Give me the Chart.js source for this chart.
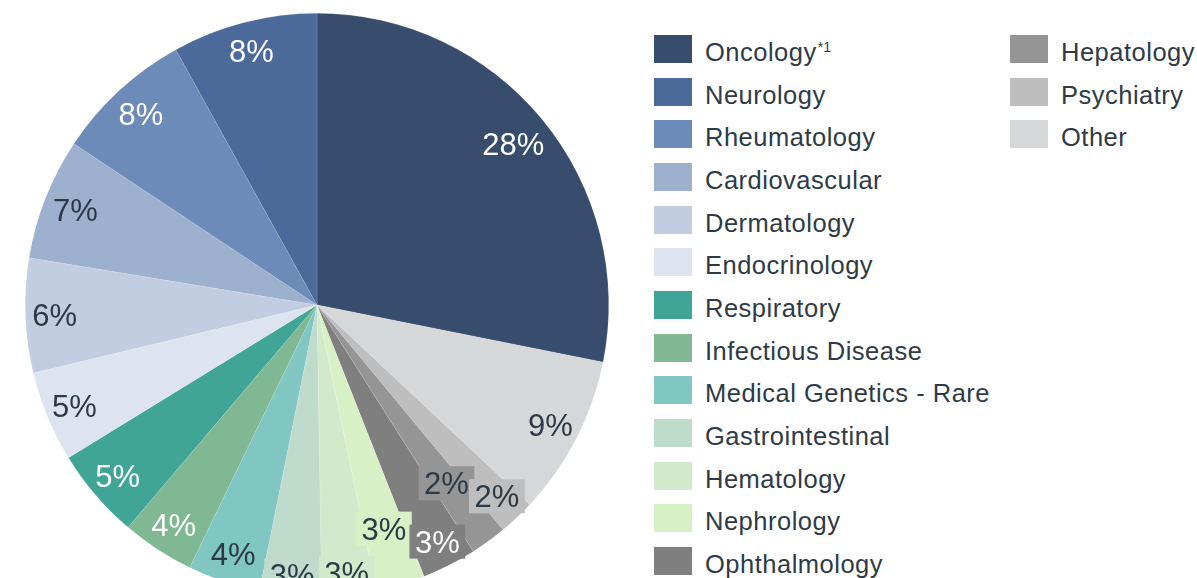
<!DOCTYPE html>
<html>
<head>
<meta charset="utf-8">
<script src="https://cdn.jsdelivr.net/npm/chart.js@4"></script>
<style>
  html, body { margin: 0; padding: 0; background: #fff; overflow: hidden; }
  #wrap { position: relative; width: 1197px; height: 578px; }
  #pieBox { position: absolute; left: 0; top: 0; }
  .legItem { position: absolute; height: 28px; }
  .legBox { position: absolute; left: 0; top: 0; width: 38px; height: 28px; }
  .legText {
    position: absolute; left: 51px; top: 3px; white-space: nowrap;
    font-family: "Liberation Sans", Arial, sans-serif; font-size: 25.5px;
    line-height: 28px; letter-spacing: 0.5px; color: #2E3B47;
  }
  .legText sup { font-size: 14px; letter-spacing: 0; vertical-align: 0; position: relative; top: -9px; margin-left: 1px; }
</style>
</head>
<body>
<div id="wrap">
  <div id="pieBox"><canvas id="pieChart" width="640" height="610"></canvas></div>
  <div id="legend"></div>
</div>
<script>
// --------------------
// Data (legend order), shares in %
// --------------------
const categories = [
  "Oncology", "Neurology", "Rheumatology", "Cardiovascular", "Dermatology",
  "Endocrinology", "Respiratory", "Infectious Disease", "Medical Genetics - Rare",
  "Gastrointestinal", "Hematology", "Nephrology", "Ophthalmology",
  "Hepatology", "Psychiatry", "Other"
];
const shares = [28, 8, 7.6, 6.7, 6.3, 5, 5, 4, 4, 3.4, 3, 2.7, 3, 2, 2, 8.8];
const footnotes = { "Oncology": "*1" };

const colors = [
  "#384D6D", "#4B6A99", "#6C8BB8", "#9DB0CE", "#C2CDE1",
  "#DEE4EF", "#40A597", "#7FB892", "#80C6C3",
  "#BFDBCB", "#D1EACB", "#D8F0C6", "#7F7F7F",
  "#959595", "#BEBEBE", "#D6D7D9"
];
const whiteLabels = ["Oncology", "Neurology", "Rheumatology", "Respiratory", "Infectious Disease", "Ophthalmology"];
// label distance as a fraction of the radius (default 0.9)
const labelRadius = {
  "Oncology": 0.87, "Rheumatology": 0.89, "Cardiovascular": 0.89,
  "Hepatology": 0.755, "Nephrology": 0.8, "Hematology": 0.925,
  "Gastrointestinal": 0.93, "Ophthalmology": 0.91
};

// --------------------
// Pie is drawn counterclockwise from the top in the original,
// so keep Oncology first and reverse the rest for Chart.js
// --------------------
const order = [0].concat([...Array(categories.length - 1).keys()].map(i => categories.length - 1 - i));
const drawLabels = order.map(i => categories[i]);
const drawData = order.map(i => shares[i]);
const drawColors = order.map(i => colors[i]);

// --------------------
// Percent labels (small slices get a slice-coloured box)
// --------------------
const pctLabels = {
  id: "pctLabels",
  afterDatasetsDraw(chart) {
    const ctx = chart.ctx;
    const meta = chart.getDatasetMeta(0);
    const total = drawData.reduce((a, b) => a + b, 0);
    ctx.save();
    ctx.font = "31px 'Liberation Sans', Arial, sans-serif";
    ctx.textAlign = "center";
    ctx.textBaseline = "alphabetic";
    for (let i = meta.data.length - 1; i >= 0; i--) {
      const arc = meta.data[i];
      const p = arc.getProps(["x", "y", "startAngle", "endAngle", "outerRadius"], true);
      const name = drawLabels[i];
      const mid = (p.startAngle + p.endAngle) / 2;
      const r = p.outerRadius * (labelRadius[name] || 0.9);
      const x = p.x + Math.cos(mid) * r;
      const y = p.y + Math.sin(mid) * r;
      const pct = drawData[i] / total * 100;
      const txt = Math.round(pct) + "%";
      if (pct < 3.6) {
        const w = ctx.measureText(txt).width + 11;
        ctx.fillStyle = drawColors[i];
        ctx.fillRect(x - w / 2, y - 17, w, 34);
      }
      ctx.fillStyle = whiteLabels.includes(name) ? "#FFFFFF" : "#2B3A46";
      ctx.fillText(txt, x, y + 11);
    }
    ctx.restore();
  }
};

const pieChart = new Chart(document.getElementById("pieChart"), {
  type: "pie",
  data: {
    labels: drawLabels,
    datasets: [{
      data: drawData,
      backgroundColor: drawColors,
      borderColor: "rgba(255,255,255,0.25)",
      borderWidth: 0.5
    }]
  },
  options: {
    responsive: false,
    animation: false,
    layout: { padding: { left: 25, right: 31, top: 13, bottom: 13 } },
    plugins: { legend: { display: false }, tooltip: { enabled: false } }
  },
  plugins: [pctLabels]
});

// --------------------
// Legend (two columns, legend order)
// --------------------
function renderLegend() {
  const box = document.getElementById("legend");
  const rowsPerCol = 13;
  categories.forEach((name, i) => {
    const col = Math.floor(i / rowsPerCol);
    const row = i % rowsPerCol;
    const item = document.createElement("div");
    item.className = "legItem";
    item.style.left = (col === 0 ? 654 : 1010) + "px";
    item.style.top = (35 + row * 42.67) + "px";
    const note = footnotes[name] ? `<sup>${footnotes[name]}</sup>` : "";
    item.innerHTML = `<div class="legBox" style="background:${colors[i]}"></div>
      <span class="legText">${name}${note}</span>`;
    box.appendChild(item);
  });
}
renderLegend();
</script>
</body>
</html>
